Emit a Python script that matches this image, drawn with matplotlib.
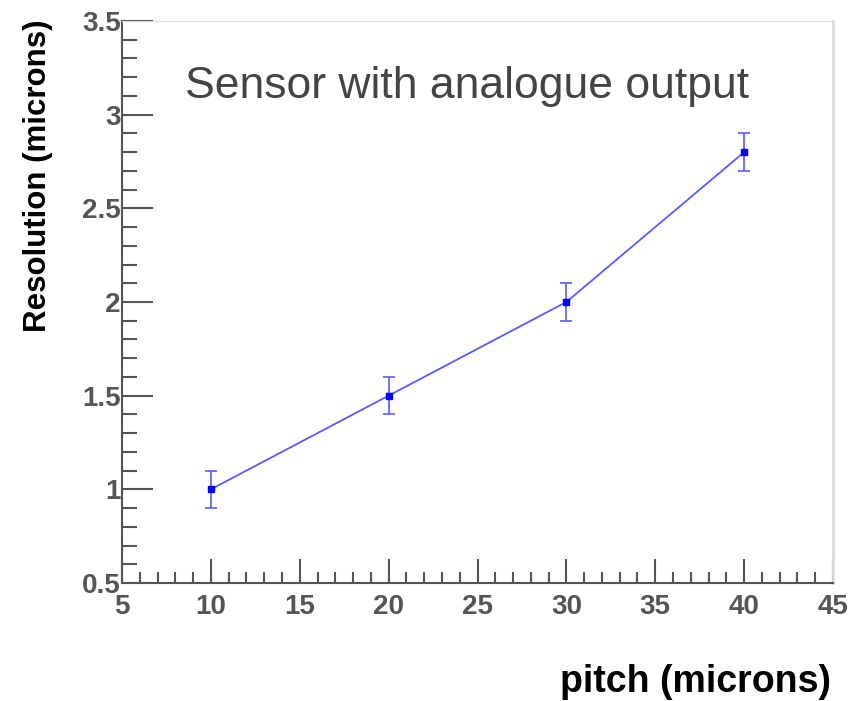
#!/usr/bin/python3

import numpy as np
import matplotlib
matplotlib.use("Agg")
import matplotlib.pyplot as plt
from matplotlib.ticker import MultipleLocator

# data
pitch = [10, 20, 30, 40]
resolution = [1.0, 1.5, 2.0, 2.8]
res_err = [0.1, 0.1, 0.1, 0.1]

x_ticks = [5, 10, 15, 20, 25, 30, 35, 40, 45]
y_ticks = [0.5, 1, 1.5, 2, 2.5, 3, 3.5]
y_tick_labels = ["0.5", "1", "1.5", "2", "2.5", "3", "3.5"]

title = "Sensor with analogue output"
x_label = "pitch (microns)"
y_label = "Resolution (microns)"

plt.rcParams["font.family"] = ["Liberation Sans", "DejaVu Sans"]

fig = plt.figure(figsize=(8.64, 7.01), dpi=100)
ax = fig.add_axes([122 / 864, 1 - 583 / 701, (833 - 122) / 864, (583 - 21) / 701])

# line + error bars
ax.plot(pitch, resolution, color="#5a5aff", lw=1.3, zorder=2)
ax.errorbar(pitch, resolution, yerr=res_err, fmt="none", ecolor="#5a5aff",
            elinewidth=1.2, capsize=4, capthick=1.2, zorder=3)
ax.plot(pitch, resolution, ls="none", marker="s", ms=5, color="#0000ff", zorder=4)

ax.set_xlim(5, 45)
ax.set_ylim(0.5, 3.5)

ax.set_xticks(x_ticks)
ax.set_yticks(y_ticks)
ax.set_yticklabels(y_tick_labels)
ax.xaxis.set_minor_locator(MultipleLocator(1))
ax.yaxis.set_minor_locator(MultipleLocator(0.1))

gray = "#555555"
ax.tick_params(which="both", direction="in", top=False, right=False,
               color=gray, width=1.5, labelcolor=gray)
ax.tick_params(axis="x", which="major", length=17, labelsize=20, pad=8)
ax.tick_params(axis="x", which="minor", length=8)
ax.tick_params(axis="y", which="major", length=22, labelsize=20, pad=1)
ax.tick_params(axis="y", which="minor", length=11)
for lab in ax.get_xticklabels() + ax.get_yticklabels():
    lab.set_fontweight("bold")

ax.spines["left"].set_color(gray)
ax.spines["bottom"].set_color(gray)
ax.spines["left"].set_linewidth(1.5)
ax.spines["bottom"].set_linewidth(1.5)
ax.spines["top"].set_color("#dddddd")
ax.spines["right"].set_color("#dddddd")
ax.spines["right"].set_linewidth(2)

ax.text(0.089, 0.884, title, transform=ax.transAxes, fontsize=32,
        color="#444444", ha="left", va="center")

fig.text(831 / 864, 1 - 692 / 701, x_label, ha="right", va="baseline",
         fontsize=27, fontweight="bold", color="black")
fig.text(38 / 864, 1 - 20 / 701, y_label, ha="center", va="top",
         rotation=90, fontsize=22.5, fontweight="bold", color="black")

fig.savefig("out.png", dpi=100)
